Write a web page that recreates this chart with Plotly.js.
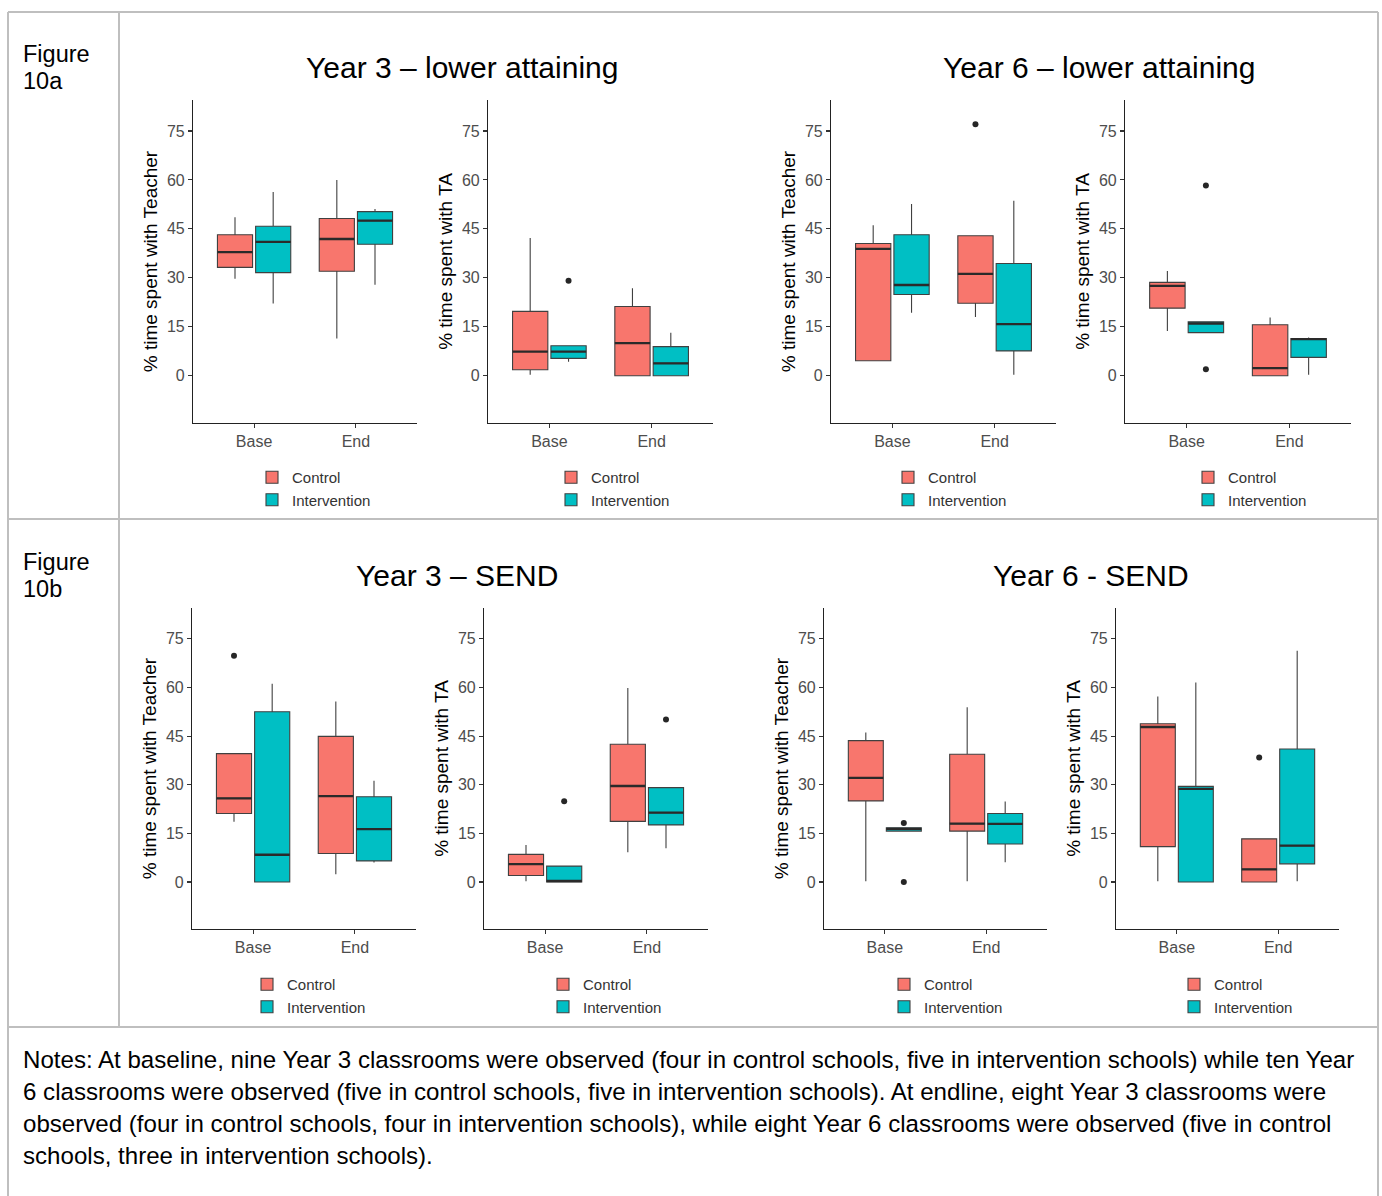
<!DOCTYPE html>
<html>
<head>
<meta charset="utf-8">
<script src="https://cdn.plot.ly/plotly-3.0.1.min.js"></script>
<style>
  html, body { margin: 0; padding: 0; background: #ffffff; }
  #chart { width: 1382px; height: 1196px; }
</style>
</head>
<body>
<div id="chart"></div>
<script>
// ---------------- DATA ----------------
const categories = ['Base', 'End'];
const seriesNames = ['Control', 'Intervention'];
const yTicks = [0, 15, 30, 45, 60, 75];

// five-number summaries per category: [lower whisker, Q1, median, Q3, upper whisker]
// Figure 10a – Year 3 lower attaining
const y3LowTeacherControl      = [[29.7, 33.2, 37.9, 43.2, 48.6], [11.4, 32.0, 41.9, 48.2, 60.0]];
const y3LowTeacherIntervention = [[22.1, 31.6, 41.0, 45.8, 56.3], [27.9, 40.3, 47.5, 50.3, 51.1]];
const y3LowTAControl           = [[0.3, 1.8, 7.4, 19.7, 42.2], [0, 0, 10.0, 21.2, 26.8]];
const y3LowTAIntervention      = [[4.3, 5.3, 7.4, 9.2, 9.2], [0, 0, 3.8, 8.9, 13.2]];
// Figure 10a – Year 6 lower attaining
const y6LowTeacherControl      = [[4.6, 4.6, 38.9, 40.5, 46.1], [18.0, 22.2, 31.2, 42.9, 42.9]];
const y6LowTeacherIntervention = [[19.3, 24.9, 27.8, 43.2, 52.6], [0.3, 7.6, 15.8, 34.4, 53.6]];
const y6LowTAControl           = [[13.7, 20.7, 27.5, 28.6, 32.1], [0, 0, 2.3, 15.6, 17.8]];
const y6LowTAIntervention      = [[13.2, 13.2, 16.0, 16.5, 16.5], [0.3, 5.6, 11.2, 11.4, 11.7]];
// Figure 10b – Year 3 SEND
const y3SendTeacherControl      = [[18.6, 21.1, 25.8, 39.6, 39.6], [2.4, 8.8, 26.5, 44.9, 55.7]];
const y3SendTeacherIntervention = [[0, 0, 8.4, 52.5, 61.1], [6.0, 6.5, 16.3, 26.3, 31.2]];
const y3SendTAControl           = [[0.2, 2.0, 5.5, 8.5, 11.4], [9.2, 18.7, 29.6, 42.5, 59.8]];
const y3SendTAIntervention      = [[0, 0, 0.3, 4.9, 4.9], [10.4, 17.6, 21.4, 29.1, 29.1]];
// Figure 10b – Year 6 SEND
const y6SendTeacherControl      = [[0.2, 25.0, 32.1, 43.6, 46.1], [0.2, 15.7, 18.0, 39.4, 53.9]];
const y6SendTeacherIntervention = [[15.7, 15.7, 16.4, 16.7, 16.7], [6.1, 11.7, 17.9, 21.1, 24.8]];
const y6SendTAControl           = [[0.2, 10.9, 47.8, 48.8, 57.2], [0, 0, 3.9, 13.3, 13.3]];
const y6SendTAIntervention      = [[0, 0, 28.7, 29.5, 61.5], [0.2, 5.6, 11.2, 41.0, 71.3]];

// outlying points per category [Base points, End points]
const y3LowTeacherOutControl = [[], []];
const y3LowTeacherOutIntervention = [[], []];
const y3LowTAOutControl = [[], []];
const y3LowTAOutIntervention = [[29.1], []];
const y6LowTeacherOutControl = [[], [77.1]];
const y6LowTeacherOutIntervention = [[], []];
const y6LowTAOutControl = [[], []];
const y6LowTAOutIntervention = [[58.3, 2.0], []];
const y3SendTeacherOutControl = [[69.8], []];
const y3SendTeacherOutIntervention = [[], []];
const y3SendTAOutControl = [[], []];
const y3SendTAOutIntervention = [[24.9], [50.1]];
const y6SendTeacherOutControl = [[], []];
const y6SendTeacherOutIntervention = [[18.2, 0], []];
const y6SendTAOutControl = [[], [38.4]];
const y6SendTAOutIntervention = [[], []];

const panelTitlesY = ['% time spent with Teacher', '% time spent with TA',
                      '% time spent with Teacher', '% time spent with TA',
                      '% time spent with Teacher', '% time spent with TA',
                      '% time spent with Teacher', '% time spent with TA'];
const groupTitles = ['Year 3 \u2013 lower attaining', 'Year 6 \u2013 lower attaining', 'Year 3 \u2013 SEND', 'Year 6 - SEND'];
const figureLabels = [['Figure', '10a'], ['Figure', '10b']];
const notesLines = [
  'Notes: At baseline, nine Year 3 classrooms were observed (four in control schools, five in intervention schools) while ten Year',
  '6 classrooms were observed (five in control schools, five in intervention schools). At endline, eight Year 3 classrooms were',
  'observed (four in control schools, four in intervention schools), while eight Year 6 classrooms were observed (five in control',
  'schools, three in intervention schools).'
];

const panels = [
  [y3LowTeacherControl, y3LowTeacherIntervention, y3LowTeacherOutControl, y3LowTeacherOutIntervention],
  [y3LowTAControl, y3LowTAIntervention, y3LowTAOutControl, y3LowTAOutIntervention],
  [y6LowTeacherControl, y6LowTeacherIntervention, y6LowTeacherOutControl, y6LowTeacherOutIntervention],
  [y6LowTAControl, y6LowTAIntervention, y6LowTAOutControl, y6LowTAOutIntervention],
  [y3SendTeacherControl, y3SendTeacherIntervention, y3SendTeacherOutControl, y3SendTeacherOutIntervention],
  [y3SendTAControl, y3SendTAIntervention, y3SendTAOutControl, y3SendTAOutIntervention],
  [y6SendTeacherControl, y6SendTeacherIntervention, y6SendTeacherOutControl, y6SendTeacherOutIntervention],
  [y6SendTAControl, y6SendTAIntervention, y6SendTAOutControl, y6SendTAOutIntervention]
];

// ---------------- LAYOUT CONSTANTS ----------------
const W = 1382, H = 1196;
const fx = v => v / W;
const fy = v => 1 - v / H;
const FONT = 'Liberation Sans, Arial, Helvetica, sans-serif';
const fills = ['#F8766D', '#00BFC4'];
const panelLeft  = [193, 488, 831, 1125, 192, 484, 824, 1116];
const panelRight = [417, 713, 1056, 1351, 416, 708, 1047, 1339];
const rowTop = [100, 608], rowBottom = [423, 929];
const legendLeft = [252, 551, 888, 1188, 247, 543, 884, 1174];
const legendTop = [461, 968];

// empty outlier lists get a null placeholder (skipped by Plotly) so the 2-D sample array stays valid
const pointsFor = lists => lists.map(l => (l.length ? l : [null]));

const traces = [];
const medianOverlays = [];
const layout = {
  width: W, height: H,
  margin: {l: 0, r: 0, t: 0, b: 0},
  paper_bgcolor: '#ffffff', plot_bgcolor: '#ffffff',
  showlegend: true,
  boxmode: 'group', boxgap: 0.25, boxgroupgap: 0.08,
  font: {family: FONT, color: '#000'},
  annotations: [], shapes: []
};

panels.forEach((p, i) => {
  const n = i + 1;
  const row = i < 4 ? 0 : 1;
  const xa = 'x' + (n === 1 ? '' : n), ya = 'y' + (n === 1 ? '' : n);
  const legName = 'legend' + (n === 1 ? '' : n);
  [0, 1].forEach(s => {
    const stats = p[s];
    traces.push({
      type: 'box',
      orientation: 'v',
      name: seriesNames[s],
      x: categories,
      lowerfence: stats.map(d => d[0]),
      q1: stats.map(d => d[1]),
      median: stats.map(d => d[2]),
      q3: stats.map(d => d[3]),
      upperfence: stats.map(d => d[4]),
      y: pointsFor(p[2 + s]),
      boxpoints: 'outliers', jitter: 0, pointpos: 0,
      marker: {color: '#262626', size: 6, line: {width: 0}},
      fillcolor: fills[s],
      line: {color: '#404040', width: 1.1},
      whiskerwidth: 0,
      xaxis: xa, yaxis: ya,
      legend: legName,
      offsetgroup: seriesNames[s],
      hoverinfo: 'skip'
    });
    // thicker median bar (ggplot style), drawn from the same medians at the same offset
    medianOverlays.push({
      type: 'box',
      orientation: 'v',
      name: seriesNames[s] + ' median',
      x: categories,
      lowerfence: stats.map(d => d[2]),
      q1: stats.map(d => d[2]),
      median: stats.map(d => d[2]),
      q3: stats.map(d => d[2]),
      upperfence: stats.map(d => d[2]),
      boxpoints: false,
      fillcolor: 'rgba(0,0,0,0)',
      line: {color: '#2a2a2a', width: 2.3},
      whiskerwidth: 0,
      xaxis: xa, yaxis: ya,
      showlegend: false,
      offsetgroup: seriesNames[s],
      hoverinfo: 'skip'
    });
  });
  layout['xaxis' + (n === 1 ? '' : n)] = {
    domain: [fx(panelLeft[i]), fx(panelRight[i])],
    anchor: ya, type: 'category', categoryarray: categories, categoryorder: 'array',
    range: [-0.6, 1.6], fixedrange: true,
    showline: true, linecolor: '#222', linewidth: 1.1, mirror: false,
    ticks: 'outside', ticklen: 4, tickcolor: '#333', tickwidth: 1.1,
    showgrid: false, zeroline: false,
    tickfont: {size: 16, color: '#4d4d4d', family: FONT}
  };
  layout['yaxis' + (n === 1 ? '' : n)] = {
    domain: [fy(rowBottom[row]), fy(rowTop[row])],
    anchor: xa, type: 'linear', range: [-14.5, 84.5], fixedrange: true,
    tickvals: yTicks, ticktext: yTicks.map(String),
    showline: true, linecolor: '#222', linewidth: 1.1,
    ticks: 'outside', ticklen: 4, tickcolor: '#333', tickwidth: 1.1,
    showgrid: false, zeroline: false,
    tickfont: {size: 16, color: '#4d4d4d', family: FONT},
    title: {text: panelTitlesY[i], font: {size: 19, color: '#000', family: FONT}, standoff: 4}
  };
  layout[legName] = {
    x: fx(legendLeft[i]), y: fy(legendTop[row]), xanchor: 'left', yanchor: 'top',
    xref: 'paper', yref: 'paper',
    bgcolor: 'rgba(0,0,0,0)', borderwidth: 0,
    font: {size: 15, color: '#333', family: FONT},
    tracegroupgap: 0, itemclick: false, itemdoubleclick: false
  };
});

// group titles
const titlePos = [[461.5, 67], [1099, 67], [456.5, 575], [1090.5, 575]];
groupTitles.forEach((t, i) => {
  layout.annotations.push({
    text: t, xref: 'paper', yref: 'paper', x: fx(titlePos[i][0]), y: fy(titlePos[i][1]),
    xanchor: 'center', yanchor: 'middle', showarrow: false,
    font: {size: 30, color: '#000', family: FONT}
  });
});

// figure labels
const figLabelTop = [54, 562];
figureLabels.forEach((lines, r) => {
  lines.forEach((t, k) => {
    layout.annotations.push({
      text: t, xref: 'paper', yref: 'paper', x: fx(21), y: fy(figLabelTop[r] + k * 27),
      xanchor: 'left', yanchor: 'middle', showarrow: false,
      font: {size: 23.5, color: '#000', family: FONT}
    });
  });
});

// notes
notesLines.forEach((t, k) => {
  layout.annotations.push({
    text: t, xref: 'paper', yref: 'paper', x: fx(21), y: fy(1059 + k * 32),
    xanchor: 'left', yanchor: 'middle', showarrow: false,
    font: {size: 24.1, color: '#000', family: FONT}
  });
});

// table borders
const borderLine = {color: '#bfbfbf', width: 2};
const seg = (x0, y0, x1, y1) => ({type: 'line', xref: 'paper', yref: 'paper',
  x0: fx(x0), y0: fy(y0), x1: fx(x1), y1: fy(y1), line: borderLine, layer: 'below'});
layout.shapes.push(seg(8, 12, 1378, 12));
layout.shapes.push(seg(8, 12, 8, 1200));
layout.shapes.push(seg(1378, 12, 1378, 1200));
layout.shapes.push(seg(8, 519, 1378, 519));
layout.shapes.push(seg(8, 1027, 1378, 1027));
layout.shapes.push(seg(119, 12, 119, 1027));

Plotly.newPlot('chart', traces.concat(medianOverlays), layout, {staticPlot: true, displayModeBar: false});
</script>
</body>
</html>
